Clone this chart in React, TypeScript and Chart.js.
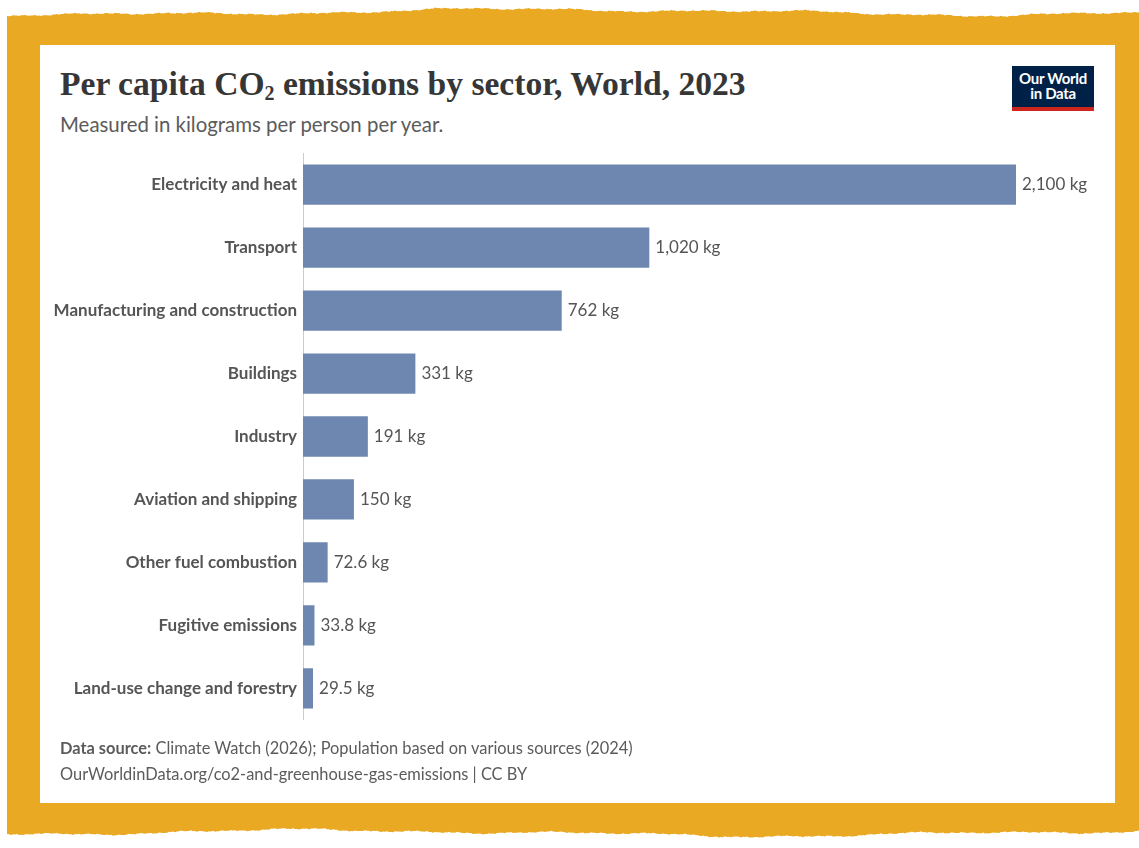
import React, { useEffect, useRef } from "react";
import { Chart, registerables } from "chart.js";

Chart.register(...registerables);

const categories = [
  "Electricity and heat",
  "Transport",
  "Manufacturing and construction",
  "Buildings",
  "Industry",
  "Aviation and shipping",
  "Other fuel combustion",
  "Fugitive emissions",
  "Land-use change and forestry",
];
const values = [2100, 1020, 762, 331, 191, 150, 72.6, 33.8, 29.5];
const unit = "kg";

const BAR = "#6e87b0";
const TEXT = "#555555";
const ORANGE = "#e9a922";

function noise(x: number, seed: number): number {
  return (
    2.6 * Math.sin(x * 0.0071 + seed) +
    1.3 * Math.sin(x * 0.0193 + seed * 2.3) +
    0.7 * Math.sin(x * 0.0517 + seed * 0.7) +
    0.45 * Math.sin(x * 0.137 + seed * 1.9) +
    0.35 * Math.sin(x * 0.611 + seed * 3.1) +
    0.3 * Math.sin(x * 1.73 + seed * 0.3)
  );
}

function tornEdge(): string {
  const pts: string[] = [];
  const W = 1139;
  for (let x = 7; x <= W; x += 2) {
    pts.push(`${x}px ${(12 + noise(x, 0.8)).toFixed(1)}px`);
  }
  pts.push(`${W}px 12px`);
  pts.push(`${W}px 832px`);
  for (let x = W; x >= 7; x -= 2) {
    pts.push(`${x}px ${(833 + noise(x, 2.4)).toFixed(1)}px`);
  }
  return `polygon(${pts.join(",")})`;
}

function BarChart() {
  const ref = useRef<HTMLCanvasElement | null>(null);
  useEffect(() => {
    if (!ref.current) return;
    const valueLabels = {
      id: "valueLabels",
      afterDatasetsDraw(chart: any) {
        const ctx = chart.ctx;
        const meta = chart.getDatasetMeta(0);
        ctx.save();
        ctx.font = "17px Lato";
        ctx.fillStyle = TEXT;
        ctx.textAlign = "left";
        ctx.textBaseline = "middle";
        meta.data.forEach((bar: any, i: number) => {
          const v = values[i];
          const txt = v.toLocaleString("en-US") + " " + unit;
          ctx.fillText(txt, bar.x + 6, bar.y);
        });
        ctx.restore();
      },
    };
    const chart = new Chart(ref.current, {
      type: "bar",
      data: {
        labels: categories,
        datasets: [
          {
            data: values,
            backgroundColor: BAR,
            borderWidth: 0,
            categoryPercentage: 1,
            barPercentage: 0.64,
          },
        ],
      },
      options: {
        indexAxis: "y",
        animation: false,
        responsive: false,
        maintainAspectRatio: false,
        layout: { padding: { top: 0, bottom: 0, right: 99, left: 0 } },
        plugins: { legend: { display: false }, tooltip: { enabled: false } },
        scales: {
          x: { display: false, min: 0, max: 2100 },
          y: {
            grid: { display: false, drawTicks: false },
            border: { display: true, color: "#cccccc", width: 1 },
            ticks: {
              color: TEXT,
              font: { family: "Lato", size: 17, weight: "bold" },
              padding: 6,
            },
            afterFit(scale: any) {
              scale.width = 263;
            },
          },
        },
      },
      plugins: [valueLabels],
    } as any);
    return () => chart.destroy();
  }, []);
  return <canvas ref={ref} width={1075} height={599} style={{ width: 1075, height: 599, display: "block" }} />;
}

export default function App() {
  return (
    <div
      style={{
        position: "absolute",
        left: 0,
        top: 0,
        width: 1139,
        height: 848,
        background: "#ffffff",
        overflow: "hidden",
        fontFamily: "Lato, sans-serif",
      }}
    >
      <div style={{ position: "absolute", inset: 0, background: ORANGE, clipPath: tornEdge() }} />
      <div style={{ position: "absolute", left: 40, top: 45, width: 1075, height: 758, background: "#fff" }} />
      <div
        style={{
          position: "absolute",
          left: 60,
          top: 62,
          fontFamily: "'Liberation Serif', serif",
          fontWeight: 700,
          fontSize: 33.6,
          color: "#363636",
          whiteSpace: "nowrap",
          lineHeight: "44px",
        }}
      >
        Per capita CO<sub style={{ fontSize: 20, verticalAlign: "-5px", lineHeight: 0 }}>2</sub> emissions by sector, World, 2023
      </div>
      <div
        style={{
          position: "absolute",
          left: 60,
          top: 110,
          fontSize: 20.4,
          color: "#5b5b5b",
          whiteSpace: "nowrap",
          lineHeight: "28px",
        }}
      >
        Measured in kilograms per person per year.
      </div>
      <div
        style={{
          position: "absolute",
          left: 1012,
          top: 66,
          width: 82,
          height: 45,
          background: "#002147",
          borderBottom: "4px solid #ce261e",
          boxSizing: "border-box",
          color: "#fff",
          fontWeight: 700,
          fontSize: 15,
          lineHeight: "15px",
          textAlign: "center",
          paddingTop: 5,
          letterSpacing: -0.3,
        }}
      >
        Our World
        <br />
        in Data
      </div>
      <div style={{ position: "absolute", left: 40, top: 137 }}>
        <BarChart />
      </div>
      <div
        style={{
          position: "absolute",
          left: 60,
          top: 735,
          fontSize: 16.4,
          color: "#5b5b5b",
          lineHeight: "26px",
          whiteSpace: "nowrap",
        }}
      >
        <div>
          <b>Data source:</b> Climate Watch (2026); Population based on various sources (2024)
        </div>
        <div>OurWorldinData.org/co2-and-greenhouse-gas-emissions | CC BY</div>
      </div>
    </div>
  );
}
